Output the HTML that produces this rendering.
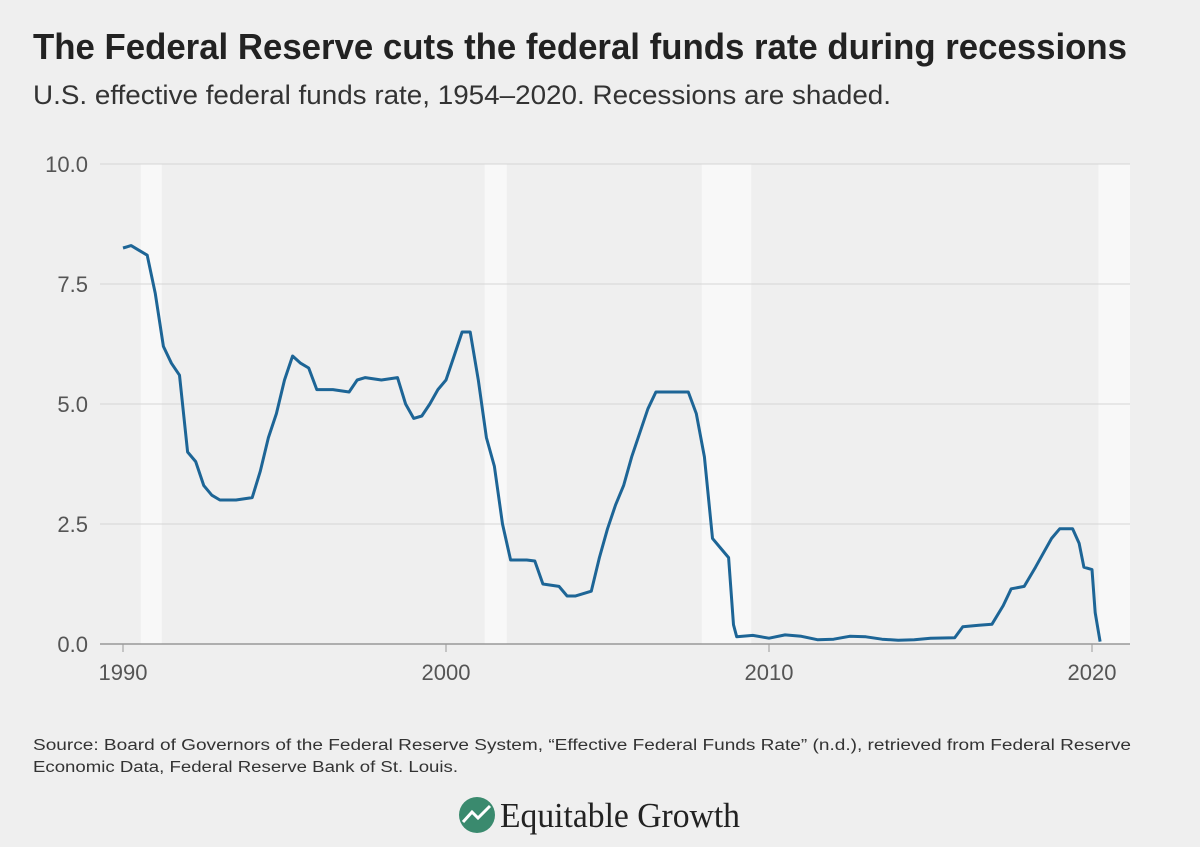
<!DOCTYPE html>
<html><head><meta charset="utf-8"><style>
body{margin:0;background:#efefef;}
svg{display:block;font-family:"Liberation Sans",sans-serif;}
</style></head><body>
<svg id="chart" width="1200" height="847" viewBox="0 0 1200 847">
<rect width="1200" height="847" fill="#efefef"/>
<text x="33" y="59" font-size="36" font-weight="bold" fill="#222" textLength="1094" lengthAdjust="spacingAndGlyphs">The Federal Reserve cuts the federal funds rate during recessions</text>
<text x="33" y="104" font-size="27" fill="#333" textLength="858" lengthAdjust="spacingAndGlyphs">U.S. effective federal funds rate, 1954–2020. Recessions are shaded.</text>
<g id="shade"></g><g id="grid"></g><g id="axes"></g>
<path id="line" fill="none" stroke="#1d6596" stroke-width="3" stroke-linejoin="round"/>
<text x="33" y="750" font-size="15.5" fill="#333" textLength="1098" lengthAdjust="spacingAndGlyphs">Source: Board of Governors of the Federal Reserve System, “Effective Federal Funds Rate” (n.d.), retrieved from Federal Reserve</text>
<text x="33" y="772" font-size="15.5" fill="#333" textLength="425" lengthAdjust="spacingAndGlyphs">Economic Data, Federal Reserve Bank of St. Louis.</text>
<g>
<circle cx="477" cy="815" r="18" fill="#3a8a6e"/>
<path d="M463 822 L472 812 L478 818 L490 806" stroke="#fff" stroke-width="3" fill="none"/>
<text x="500" y="827" font-family="'Liberation Serif',serif" font-size="35" fill="#222" textLength="240" lengthAdjust="spacingAndGlyphs">Equitable Growth</text>
</g>
</svg>
<script>
const years=[1990,1990.25,1990.5,1990.75,1991,1991.25,1991.5,1991.75,1992,1992.25,1992.5,1992.75,1993,1993.5,1994,1994.25,1994.5,1994.75,1995,1995.25,1995.5,1995.75,1996,1996.5,1997,1997.25,1997.5,1998,1998.5,1998.75,1999,1999.25,1999.5,1999.75,2000,2000.25,2000.5,2000.75,2001,2001.25,2001.5,2001.75,2002,2002.5,2002.75,2003,2003.5,2003.75,2004,2004.5,2004.75,2005,2005.25,2005.5,2005.75,2006,2006.25,2006.5,2007,2007.5,2007.75,2008,2008.25,2008.5,2008.75,2008.9,2009,2009.5,2010,2010.5,2011,2011.5,2012,2012.5,2013,2013.5,2014,2014.5,2015,2015.75,2016,2016.5,2016.9,2017.25,2017.5,2017.9,2018.25,2018.5,2018.75,2019,2019.4,2019.6,2019.75,2020,2020.1,2020.25];
const rates=[8.25,8.3,8.2,8.1,7.3,6.2,5.85,5.6,4.0,3.8,3.3,3.1,3.0,3.0,3.05,3.6,4.3,4.8,5.5,6.0,5.85,5.75,5.3,5.3,5.25,5.5,5.55,5.5,5.55,5.0,4.7,4.75,5.0,5.3,5.5,6.0,6.5,6.5,5.5,4.3,3.7,2.5,1.75,1.75,1.73,1.25,1.2,1.0,1.0,1.1,1.8,2.4,2.9,3.3,3.9,4.4,4.9,5.25,5.25,5.25,4.8,3.9,2.2,2.0,1.8,0.4,0.15,0.18,0.12,0.19,0.16,0.09,0.1,0.16,0.15,0.1,0.08,0.09,0.12,0.13,0.36,0.39,0.41,0.8,1.15,1.2,1.6,1.9,2.2,2.4,2.4,2.1,1.6,1.55,0.65,0.05];
const recStart=[1990.55,2001.2,2007.92,2020.2];
const recEnd=[1991.2,2001.88,2009.45,2021.2];
const yTicks=[0,2.5,5,7.5,10];
const yTickLabels=["0.0","2.5","5.0","7.5","10.0"];
const xTicks=[1990,2000,2010,2020];
const X=v=>123+(v-1990)*32.3, Y=v=>644-v*48;
const NS="http://www.w3.org/2000/svg";
function mk(t,a,p){const e=document.createElementNS(NS,t);for(const k in a)e.setAttribute(k,a[k]);document.getElementById(p).appendChild(e);return e;}
recStart.forEach((s,i)=>{const r=mk('rect',{x:X(s),y:164,width:Math.min(X(recEnd[i]),1130)-X(s),height:480,fill:'#f8f8f8'},'shade');

});
yTicks.forEach((v,i)=>{const l=mk('line',{x1:100,x2:1130,y1:Y(v),y2:Y(v),stroke:v===0?'#999':'#d6d6d6','stroke-width':v===0?1.5:1},'grid');


const t=mk('text',{x:88,y:Y(v)+8,'text-anchor':'end','font-size':22,fill:'#555'},'axes');t.textContent=yTickLabels[i];

});
xTicks.forEach(v=>{const l=mk('line',{x1:X(v),x2:X(v),y1:644,y2:652,stroke:'#999'},'axes');


const t=mk('text',{x:X(v),y:680,'text-anchor':'middle','font-size':22,fill:'#555'},'axes');t.textContent=v;

});
document.getElementById('line').setAttribute('d',years.map((y,i)=>(i?'L':'M')+X(y).toFixed(1)+' '+Y(rates[i]).toFixed(1)).join(' '));
</script>
</body></html>
